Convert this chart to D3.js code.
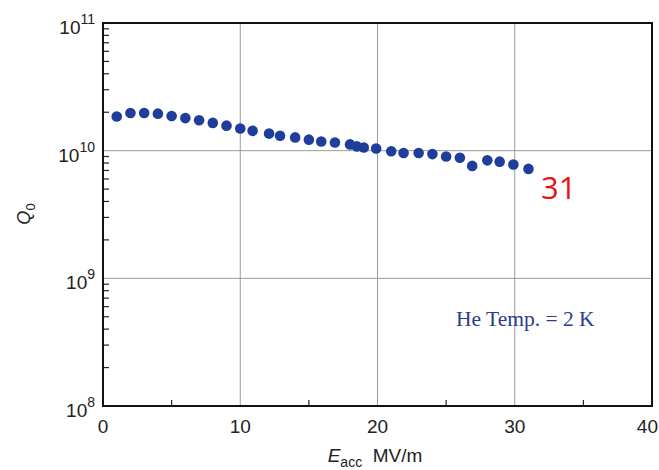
<!DOCTYPE html>
<html><head><meta charset="utf-8">
<script src="https://cdn.jsdelivr.net/npm/d3@7"></script>
<style>body{margin:0;background:#fff}svg{display:block}</style>
</head><body>
<script>
const eacc = [1,2,3,4,5,6,7,8,9,10,10.9,12.1,12.9,14,15,15.9,16.9,18,18.5,19,19.9,21,21.9,23,24,25,26,26.9,28,28.9,29.9,31];
const q0 = [1.85e10,1.97e10,1.97e10,1.95e10,1.87e10,1.80e10,1.73e10,1.65e10,1.57e10,1.49e10,1.43e10,1.36e10,1.31e10,1.27e10,1.22e10,1.18e10,1.16e10,1.12e10,1.08e10,1.06e10,1.04e10,9.9e9,9.6e9,9.6e9,9.4e9,9.0e9,8.8e9,7.6e9,8.4e9,8.2e9,7.8e9,7.2e9];
const xTicks = [0,10,20,30,40];
const xMinor = [5,15,25,35];
const yExps = [8,9,10,11];
const annotation = "He Temp. = 2 K";
const redLabel = "31";

const W=659,H=470;
const m={l:103,t:23,r:7,b:64};
const svg=d3.select("body").append("svg").attr("width",W).attr("height",H);
const x=d3.scaleLinear().domain([0,40]).range([m.l,W-m.r]);
const y=d3.scaleLog().domain([1e8,1e11]).range([H-m.b,m.t]);
const font="'Liberation Sans', Arial, Helvetica, sans-serif";

// gridlines
const g=svg.append("g");
g.selectAll("line.vg").data(xTicks.slice(1,-1)).join("line")
 .attr("x1",d=>x(d)).attr("x2",d=>x(d)).attr("y1",y(1e11)).attr("y2",y(1e8))
 .attr("stroke","#9a9a9a").attr("stroke-width",1);
g.selectAll("line.hg").data(yExps.slice(1,-1)).join("line")
 .attr("x1",x(0)).attr("x2",x(40)).attr("y1",d=>y(Math.pow(10,d))).attr("y2",d=>y(Math.pow(10,d)))
 .attr("stroke","#9a9a9a").attr("stroke-width",1);

// minor y ticks (inside, left)
const minorY=[];
yExps.slice(0,-1).forEach(e=>{for(let k=2;k<=9;k++)minorY.push(k*Math.pow(10,e));});
svg.selectAll("line.my").data(minorY).join("line")
 .attr("x1",x(0)).attr("x2",x(0)+6).attr("y1",d=>y(d)).attr("y2",d=>y(d))
 .attr("stroke","#222").attr("stroke-width",1.2);
svg.selectAll("line.mx").data(xMinor).join("line")
 .attr("x1",d=>x(d)).attr("x2",d=>x(d)).attr("y1",y(1e8)).attr("y2",y(1e8)-6)
 .attr("stroke","#222").attr("stroke-width",1.2);

// frame
svg.append("rect").attr("x",x(0)).attr("y",y(1e11)).attr("width",x(40)-x(0)).attr("height",y(1e8)-y(1e11))
 .attr("fill","none").attr("stroke","#111").attr("stroke-width",2);

// x tick labels
svg.selectAll("text.xt").data(xTicks).join("text")
 .attr("x",d=>d===40?W-1:x(d)).attr("y",y(1e8)+27).attr("text-anchor",d=>d===40?"end":"middle")
 .attr("font-family",font).attr("font-size",19).attr("fill","#222").text(d=>d);

// y tick labels 10^n
const yl=svg.selectAll("text.yt").data(yExps).join("text")
 .attr("x",x(0)-8).attr("y",d=>y(Math.pow(10,d))+11).attr("text-anchor","end")
 .attr("font-family",font).attr("font-size",19).attr("fill","#222");
yl.append("tspan").text("10");
yl.append("tspan").attr("font-size",14).attr("dy",-10).text(d=>d);

// axis titles
const xt=svg.append("text").attr("x",375).attr("y",462).attr("text-anchor","middle")
 .attr("font-family",font).attr("font-size",19).attr("fill","#222");
xt.append("tspan").attr("font-style","italic").text("E");
xt.append("tspan").attr("font-size",14).attr("dy",5).text("acc");
xt.append("tspan").attr("dy",-5).text("\u00a0\u00a0MV/m");

const yt=svg.append("text").attr("transform","translate(30,214) rotate(-90)").attr("text-anchor","middle")
 .attr("font-family",font).attr("font-size",18).attr("fill","#222");
yt.append("tspan").attr("font-style","italic").text("Q");
yt.append("tspan").attr("font-size",13).attr("dy",5).text("0");

// data points
const data=eacc.map((e,i)=>({e,q:q0[i]}));
svg.selectAll("circle.pt").data(data).join("circle")
 .attr("cx",d=>x(d.e)).attr("cy",d=>y(d.q)).attr("r",5.3)
 .attr("fill","#1f3d9b");

// annotation
svg.append("text").attr("x",456).attr("y",326)
 .attr("font-family","'Liberation Serif','Times New Roman',serif").attr("font-size",21.5)
 .attr("fill","#2b3a8f").text(annotation);

svg.append("text").attr("x",541).attr("y",199)
 .attr("font-family","'Open Sans','Liberation Sans',sans-serif").attr("font-size",31)
 .attr("fill","#ee1111").text(redLabel);
</script>
</body></html>
